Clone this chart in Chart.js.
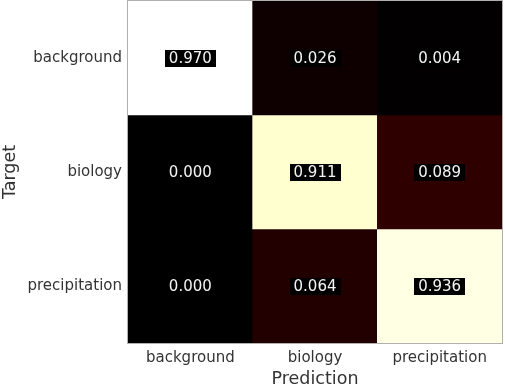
<!DOCTYPE html>
<html>
<head>
<meta charset="utf-8">
<script src="https://cdn.jsdelivr.net/npm/chart.js@4.4.1/dist/chart.umd.min.js"></script>
<style>
  html, body { margin: 0; padding: 0; background: #ffffff; }
  #wrap { width: 505px; height: 386px; position: relative; }
</style>
</head>
<body>
<div id="wrap"><canvas id="c" width="505" height="386"></canvas></div>
<script>
// ---- Data ----
const predictionLabels = ['background', 'biology', 'precipitation'];
const targetLabels = ['background', 'biology', 'precipitation'];
const rowBackground = [0.970, 0.026, 0.004];
const rowBiology = [0.000, 0.911, 0.089];
const rowPrecipitation = [0.000, 0.064, 0.936];
const matrixRows = [rowBackground, rowBiology, rowPrecipitation];

const vmax = Math.max(...matrixRows.flat());

// afmhot-like colormap
function cmap(v) {
  const x = Math.min(1, Math.max(0, v / vmax));
  const c = t => Math.round(255 * Math.min(1, Math.max(0, t)));
  return `rgb(${c(2 * x)},${c(2 * x - 0.5)},${c(3 * x - 2)})`;
}

const FONT = "'DejaVu Sans', sans-serif";

const datasets = matrixRows.map((row, r) => ({
  label: targetLabels[r],
  data: row.map((v, ci) => ({ x: predictionLabels[ci], y: [r, r + 1], v })),
  backgroundColor: row.map(v => cmap(v)),
  borderWidth: 0,
  grouped: false,
  barPercentage: 1,
  categoryPercentage: 1
}));

const cellText = {
  id: 'cellText',
  afterDatasetsDraw(chart) {
    const ctx = chart.ctx;
    ctx.save();
    ctx.font = `15px ${FONT}`;
    ctx.textAlign = 'center';
    ctx.textBaseline = 'middle';
    chart.data.datasets.forEach((ds, di) => {
      const meta = chart.getDatasetMeta(di);
      meta.data.forEach((bar, i) => {
        const v = ds.data[i].v;
        const txt = v.toFixed(3);
        const cx = bar.x;
        const cy = (bar.y + bar.base) / 2;
        const w = ctx.measureText(txt).width;
        ctx.fillStyle = '#000000';
        ctx.fillRect(Math.round(cx - w / 2 - 4), Math.round(cy - 8.5), Math.round(w + 8), 17);
        ctx.fillStyle = '#f4f4f4';
        ctx.fillText(txt, cx, cy + 1);
      });
    });
    ctx.restore();
  }
};

const frame = {
  id: 'frame',
  afterDraw(chart) {
    const a = chart.chartArea;
    const ctx = chart.ctx;
    ctx.save();
    ctx.strokeStyle = '#b0b0b0';
    ctx.lineWidth = 1;
    ctx.strokeRect(a.left - 0.5, a.top - 0.5, a.right - a.left + 1, a.bottom - a.top + 1);
    ctx.restore();
  }
};

new Chart(document.getElementById('c'), {
  type: 'bar',
  data: { labels: predictionLabels, datasets },
  options: {
    responsive: false,
    animation: false,
    layout: { padding: { top: 1, right: 3, left: 0, bottom: 0 } },
    plugins: { legend: { display: false }, tooltip: { enabled: false } },
    scales: {
      x: {
        type: 'category',
        offset: true,
        grid: { display: false, drawTicks: false },
        border: { display: false },
        ticks: { color: '#333333', font: { family: FONT, size: 15 }, padding: 6, maxRotation: 0 },
        title: { display: true, text: 'Prediction', color: '#333333', font: { family: FONT, size: 17.5 }, padding: { top: 2, bottom: -4 } },
        afterFit(scale) { scale.height = 43; scale.paddingLeft = 0; scale.paddingRight = 0; }
      },
      y: {
        type: 'linear',
        min: 0, max: 3,
        reverse: true,
        grid: { display: false, drawTicks: false },
        border: { display: false },
        afterBuildTicks(scale) { scale.ticks = targetLabels.map((_, i) => ({ value: i + 0.5 })); },
        ticks: {
          color: '#333333', font: { family: FONT, size: 15 }, padding: 6,
          callback: (val) => targetLabels[Math.floor(val)]
        },
        title: { display: true, text: 'Target', color: '#333333', font: { family: FONT, size: 17.5 }, padding: { top: 0, bottom: 0 } },
        afterFit(scale) { scale.width = 128; scale.paddingTop = 0; scale.paddingBottom = 0; }
      }
    }
  },
  plugins: [cellText, frame]
});
</script>
</body>
</html>
